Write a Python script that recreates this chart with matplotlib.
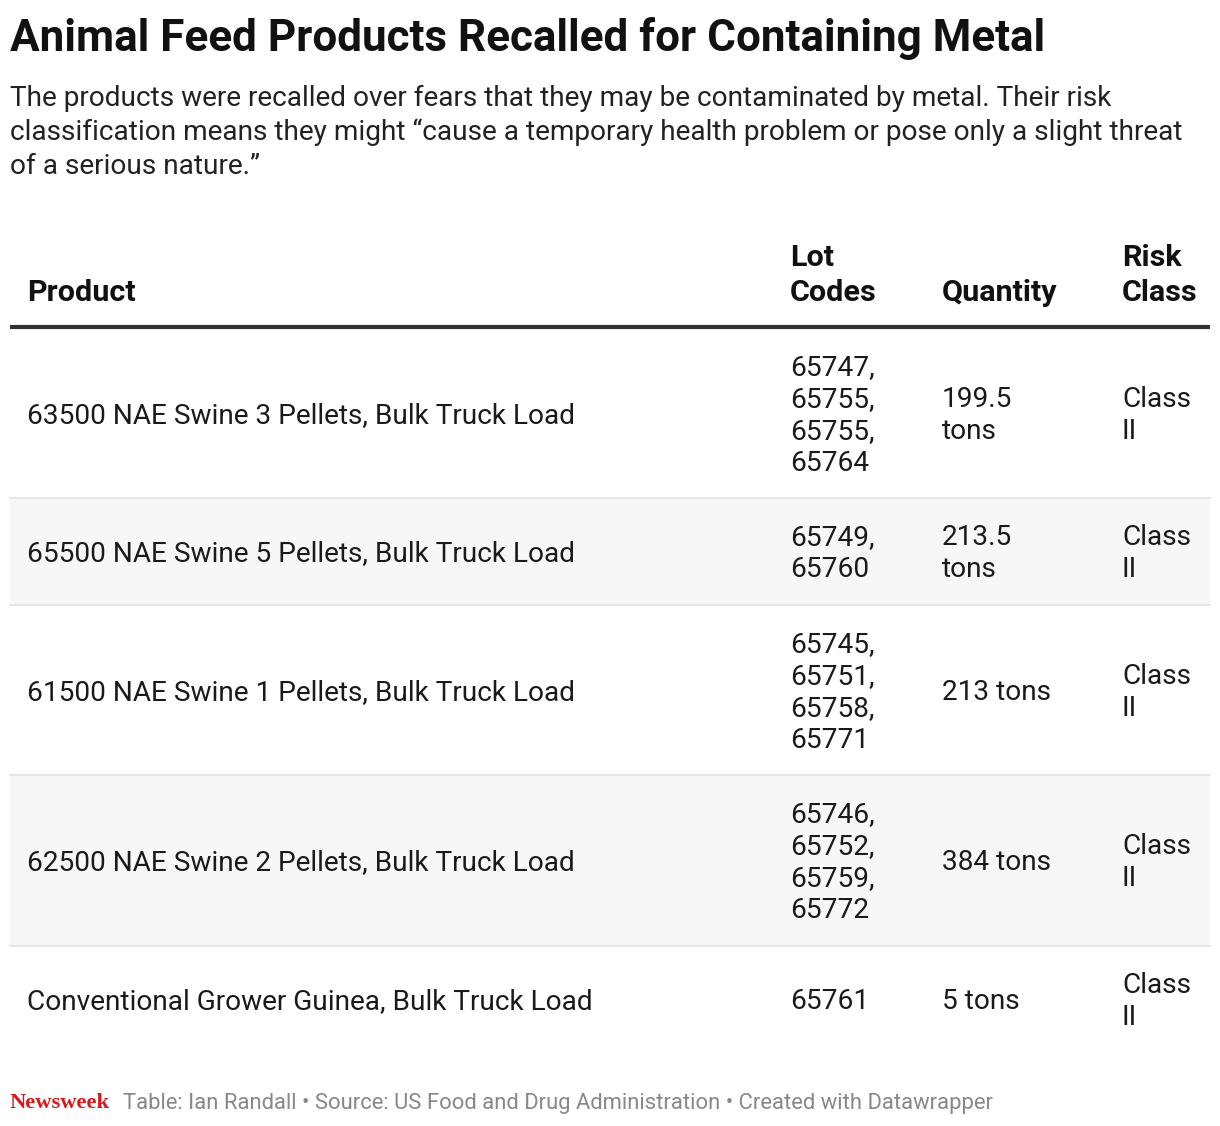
import textwrap
import matplotlib
matplotlib.use("Agg")
import matplotlib.pyplot as plt
import matplotlib.patches as patches

plt.rcParams['font.family'] = ['Roboto', 'DejaVu Sans']

# table data
products = [
    "63500 NAE Swine 3 Pellets, Bulk Truck Load",
    "65500 NAE Swine 5 Pellets, Bulk Truck Load",
    "61500 NAE Swine 1 Pellets, Bulk Truck Load",
    "62500 NAE Swine 2 Pellets, Bulk Truck Load",
    "Conventional Grower Guinea, Bulk Truck Load",
]
lot_codes = [
    ["65747", "65755", "65755", "65764"],
    ["65749", "65760"],
    ["65745", "65751", "65758", "65771"],
    ["65746", "65752", "65759", "65772"],
    ["65761"],
]
quantities = ["199.5 tons", "213.5 tons", "213 tons", "384 tons", "5 tons"]
risk_class = ["Class II", "Class II", "Class II", "Class II", "Class II"]

headers = ["Product", "Lot\nCodes", "Quantity", "Risk\nClass"]

title = "Animal Feed Products Recalled for Containing Metal"
subtitle = ("The products were recalled over fears that they may be contaminated by metal. Their risk\n"
            "classification means they might \u201ccause a temporary health problem or pose only a slight threat\n"
            "of a serious nature.\u201d")
footer = "Table: Ian Randall \u2022 Source: US Food and Drug Administration \u2022 Created with Datawrapper"

W, H = 1220, 1126
fig = plt.figure(figsize=(W / 100, H / 100), dpi=100)
ax = fig.add_axes([0, 0, 1, 1])
ax.set_xlim(0, W)
ax.set_ylim(H, 0)
ax.axis('off')

px = 72 / 100  # pixel -> point

ax.text(10, 38, title, fontsize=44 * px, fontweight='bold', color='#111111', va='center')
ax.text(10, 85, subtitle, fontsize=28 * px, color='#222222', va='top', linespacing=1.31)

col_x = [27, 790, 942, 1122]
line_h = 32
text_size = 28 * px

# header
for x, h in zip(col_x, headers):
    ax.text(x, 307, h, fontsize=30.5 * px, fontweight='bold', color='#111111',
            va='bottom', linespacing=1.3)
ax.plot([10, 1210], [327, 327], color='#333333', lw=3, solid_capstyle='butt')

y = 327.5
for i in range(len(products)):
    cells = [
        [products[i]],
        [c + "," for c in lot_codes[i][:-1]] + [lot_codes[i][-1]],
        textwrap.wrap(quantities[i], 8),
        textwrap.wrap(risk_class[i], 6),
    ]
    n = max(len(c) for c in cells)
    row_h = n * line_h + 42.5
    if i % 2 == 1:
        ax.add_patch(patches.Rectangle((10, y), 1200, row_h, facecolor='#f7f7f7',
                                       edgecolor='none', zorder=0))
    cy = y + row_h / 2 + 2.5
    for x, cell in zip(col_x, cells):
        k = len(cell)
        for j, line in enumerate(cell):
            ly = cy + (j - (k - 1) / 2) * line_h
            ax.text(x, ly, line, fontsize=text_size, color='#1a1a1a', va='center')
    y += row_h
    if i < len(products) - 1:
        ax.plot([10, 1210], [y, y], color='#e6e6e6', lw=1.5)

# footer
ax.text(10, 1103, "Newsweek", fontsize=22.5 * px, fontweight='bold', color='#d7191c',
        family='Liberation Serif', va='center')
ax.text(123, 1103, footer, fontsize=22 * px, color='#888888', va='center')

fig.savefig("out.png", dpi=100)
